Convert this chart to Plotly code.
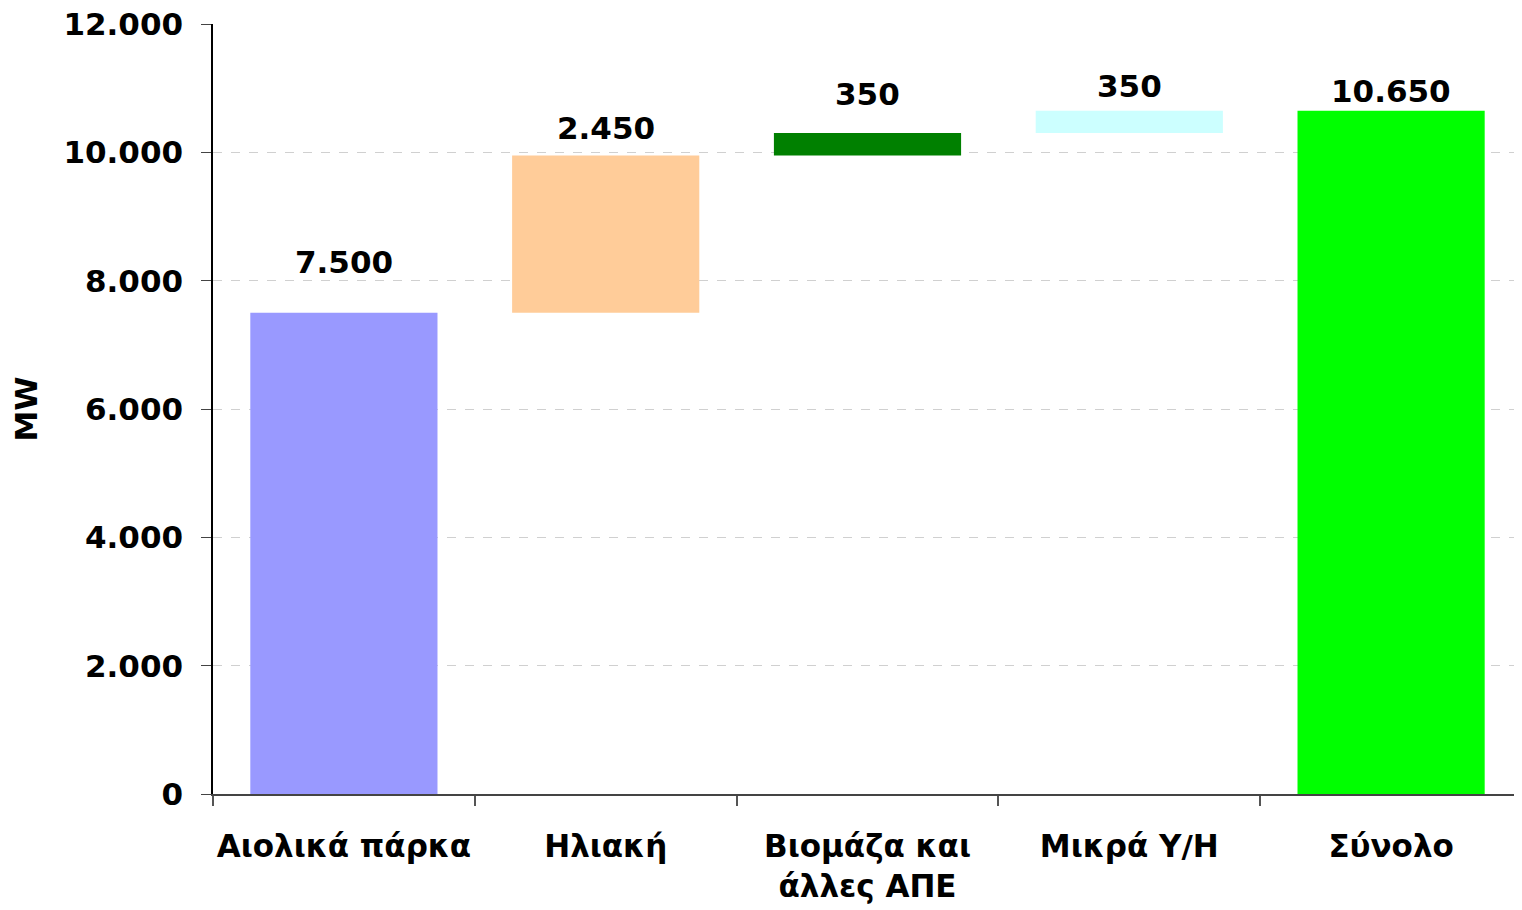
import plotly.graph_objects as go

categories = ["Αιολικά πάρκα", "Ηλιακή", "Βιομάζα και<br>άλλες ΑΠΕ", "Μικρά Υ/Η", "Σύνολο"]
values = [7500, 2450, 350, 350, 10650]
bases = [0, 7500, 9950, 10300, 0]
labels = ["7.500", "2.450", "350", "350", "10.650"]
y_ticks = [0, 2000, 4000, 6000, 8000, 10000, 12000]

colors = ["#9999FF", "#FFCC99", "#008000", "#CCFFFF", "#00FF00"]
label_shift = [51, 28, 39, 25, 20]

FONT = "DejaVu Sans"
FS = 31
fig = go.Figure()
fig.add_trace(go.Bar(x=categories, y=values, base=bases,
                     marker=dict(color=colors, line=dict(width=0)),
                     hoverinfo="skip"))
for c, v, b, t, s in zip(categories, values, bases, labels, label_shift):
    fig.add_annotation(x=c, y=b + v, text="<b>" + t + "</b>", showarrow=False,
                       yanchor="middle", yshift=s,
                       font=dict(family=FONT, size=FS, color="black"))

fig.update_layout(
    width=1514, height=902,
    margin=dict(l=205, r=0, t=16, b=116),
    paper_bgcolor="white", plot_bgcolor="white",
    separators=",.",
    bargap=0.285,
    showlegend=False,
    font=dict(family=FONT, size=FS, color="black"),
    xaxis=dict(
        type="category", tickson="boundaries", ticks="outside", ticklen=10,
        tickcolor="#555555", tickwidth=1.5, tickangle=0, automargin=False,
        ticklabeloverflow="allow",
        showline=True, linecolor="#444444", linewidth=1.5,
        showgrid=False, tickfont=dict(family=FONT, size=FS, color="black", weight="bold"),
        ticklabelstandoff=24,
    ),
    yaxis=dict(
        range=[0, 12000], tickvals=y_ticks, tickformat=",d", automargin=False,
        ticklabeloverflow="allow",
        ticks="outside", ticklen=10, tickcolor="#444444",
        showline=True, linecolor="black", linewidth=1.5,
        showgrid=True, gridcolor="#d0d0d0", griddash="dash", gridwidth=1,
        zeroline=False,
        tickfont=dict(family=FONT, size=FS, color="black", weight="bold"),
        ticklabelstandoff=12,
        title=dict(text="<b>MW</b>", font=dict(family=FONT, size=FS, color="black"), standoff=20),
    ),
)
fig.write_html("out.html")
